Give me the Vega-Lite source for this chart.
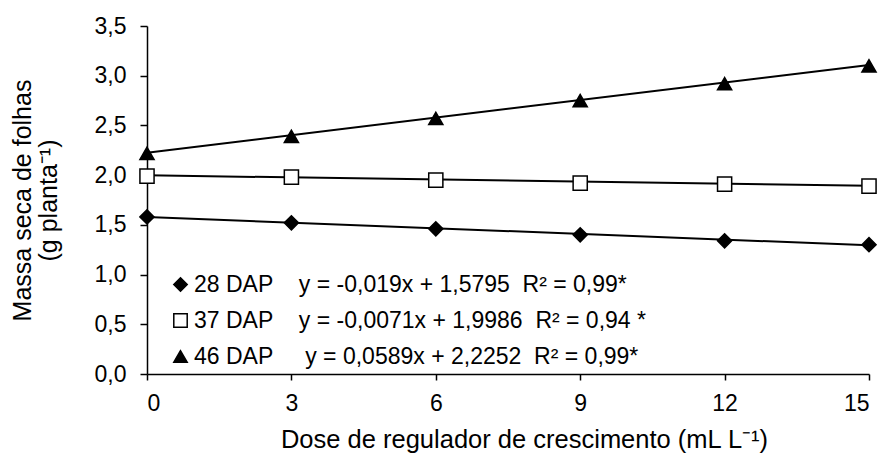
{
  "$schema": "https://vega.github.io/schema/vega-lite/v6.json",
  "width": 722,
  "height": 348,
  "autosize": "none",
  "padding": {"left": 147, "top": 26, "right": 13, "bottom": 85},
  "background": "white",
  "config": {
    "view": {"stroke": null},
    "font": "Liberation Sans",
    "axis": {
      "domainColor": "black",
      "domainWidth": 1.5,
      "tickColor": "black",
      "tickWidth": 1.5,
      "grid": false,
      "labelColor": "black",
      "titleColor": "black",
      "labelFont": "Liberation Sans",
      "titleFont": "Liberation Sans",
      "labelFontSize": 23,
      "titleFontSize": 25,
      "titleFontWeight": "normal"
    },
    "legend": {
      "title": null,
      "orient": "none",
      "legendX": 22,
      "legendY": 247,
      "padding": 0,
      "rowPadding": 12,
      "labelFontSize": 23,
      "labelColor": "black",
      "labelOffset": 2,
      "symbolSize": 180,
      "symbolStrokeWidth": 1.5,
      "labelLimit": 0
    }
  },
  "datasets": {
    "pts": [
      {"serie": "28 DAP", "dose": 0, "massa": 1.58},
      {"serie": "28 DAP", "dose": 3, "massa": 1.52},
      {"serie": "28 DAP", "dose": 6, "massa": 1.46},
      {"serie": "28 DAP", "dose": 9, "massa": 1.40},
      {"serie": "28 DAP", "dose": 12, "massa": 1.34},
      {"serie": "28 DAP", "dose": 15, "massa": 1.30},
      {"serie": "37 DAP", "dose": 0, "massa": 1.99},
      {"serie": "37 DAP", "dose": 3, "massa": 1.98},
      {"serie": "37 DAP", "dose": 6, "massa": 1.95},
      {"serie": "37 DAP", "dose": 9, "massa": 1.92},
      {"serie": "37 DAP", "dose": 12, "massa": 1.91},
      {"serie": "37 DAP", "dose": 15, "massa": 1.89},
      {"serie": "46 DAP", "dose": 0, "massa": 2.22},
      {"serie": "46 DAP", "dose": 3, "massa": 2.39},
      {"serie": "46 DAP", "dose": 6, "massa": 2.57},
      {"serie": "46 DAP", "dose": 9, "massa": 2.75},
      {"serie": "46 DAP", "dose": 12, "massa": 2.92},
      {"serie": "46 DAP", "dose": 15, "massa": 3.10}
    ],
    "fit": [
      {"serie": "28 DAP", "dose": 0, "massa": 1.5795},
      {"serie": "28 DAP", "dose": 15, "massa": 1.2945},
      {"serie": "37 DAP", "dose": 0, "massa": 1.9986},
      {"serie": "37 DAP", "dose": 15, "massa": 1.8921},
      {"serie": "46 DAP", "dose": 0, "massa": 2.2252},
      {"serie": "46 DAP", "dose": 15, "massa": 3.1087}
    ]
  },
  "layer": [
    {
      "data": {"name": "fit"},
      "mark": {"type": "line", "color": "black", "strokeWidth": 2},
      "encoding": {
        "x": {"field": "dose", "type": "quantitative"},
        "y": {"field": "massa", "type": "quantitative"},
        "detail": {"field": "serie"}
      }
    },
    {
      "data": {"name": "pts"},
      "mark": {"type": "point", "strokeWidth": 1.5, "size": 200, "opacity": 1},
      "encoding": {
        "x": {
          "field": "dose",
          "type": "quantitative",
          "scale": {"domain": [0, 15], "nice": false, "zero": false},
          "axis": {
            "values": [0, 3, 6, 9, 12, 15],
            "tickSize": 6,
            "labelPadding": 12,
            "titlePadding": 12,
            "titleX": 377,
            "titleFontSize": 25.5,
            "title": "Dose de regulador de crescimento (mL L⁻¹)"
          }
        },
        "y": {
          "field": "massa",
          "type": "quantitative",
          "scale": {"domain": [0, 3.5], "nice": false},
          "axis": {
            "values": [0, 0.5, 1, 1.5, 2, 2.5, 3, 3.5],
            "tickSize": 7,
            "labelPadding": 14,
            "titlePadding": 33,
            "titleLineHeight": 26,
            "labelExpr": "replace(format(datum.value, '.1f'), '.', ',')",
            "title": ["Massa seca de folhas", "(g planta⁻¹)"]
          }
        },
        "shape": {
          "field": "serie",
          "type": "nominal",
          "scale": {"domain": ["28 DAP", "37 DAP", "46 DAP"], "range": ["diamond", "square", "triangle-up"]},
          "legend": {
            "labelExpr": "datum.label == '28 DAP' ? '28 DAP\u00a0\u00a0\u00a0\u00a0y = -0,019x + 1,5795\u00a0\u00a0R² = 0,99*' : datum.label == '37 DAP' ? '37 DAP\u00a0\u00a0\u00a0\u00a0y = -0,0071x + 1,9986\u00a0\u00a0R² = 0,94 *' : '46 DAP\u00a0\u00a0\u00a0\u00a0\u00a0y = 0,0589x + 2,2252\u00a0\u00a0R² = 0,99*'"
          }
        },
        "fill": {
          "field": "serie",
          "type": "nominal",
          "scale": {"domain": ["28 DAP", "37 DAP", "46 DAP"], "range": ["black", "white", "black"]},
          "legend": {
            "labelExpr": "datum.label == '28 DAP' ? '28 DAP\u00a0\u00a0\u00a0\u00a0y = -0,019x + 1,5795\u00a0\u00a0R² = 0,99*' : datum.label == '37 DAP' ? '37 DAP\u00a0\u00a0\u00a0\u00a0y = -0,0071x + 1,9986\u00a0\u00a0R² = 0,94 *' : '46 DAP\u00a0\u00a0\u00a0\u00a0\u00a0y = 0,0589x + 2,2252\u00a0\u00a0R² = 0,99*'"
          }
        },
        "stroke": {
          "field": "serie",
          "type": "nominal",
          "scale": {"domain": ["28 DAP", "37 DAP", "46 DAP"], "range": ["black", "black", "black"]},
          "legend": {
            "labelExpr": "datum.label == '28 DAP' ? '28 DAP\u00a0\u00a0\u00a0\u00a0y = -0,019x + 1,5795\u00a0\u00a0R² = 0,99*' : datum.label == '37 DAP' ? '37 DAP\u00a0\u00a0\u00a0\u00a0y = -0,0071x + 1,9986\u00a0\u00a0R² = 0,94 *' : '46 DAP\u00a0\u00a0\u00a0\u00a0\u00a0y = 0,0589x + 2,2252\u00a0\u00a0R² = 0,99*'"
          }
        }
      }
    }
  ]
}
